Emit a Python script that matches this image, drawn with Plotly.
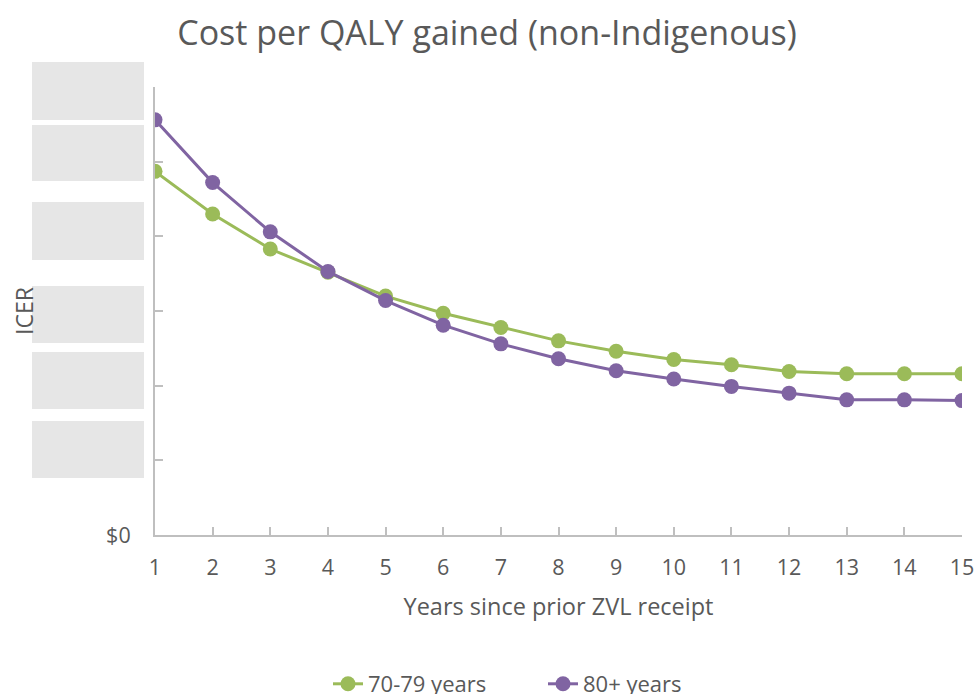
import plotly.graph_objects as go

years = list(range(1, 16))
icer_70_79 = [4.87, 4.30, 3.83, 3.52, 3.20, 2.97, 2.78, 2.60, 2.46, 2.35, 2.28, 2.19, 2.16, 2.16, 2.16]
icer_80_plus = [5.56, 4.72, 4.06, 3.53, 3.14, 2.81, 2.56, 2.36, 2.20, 2.09, 1.99, 1.90, 1.81, 1.81, 1.80]
y_tick_vals = [0, 1, 2, 3, 4, 5, 6]
y_tick_text = ["$0", "", "", "", "", "", ""]

GREEN = "#9BBB59"
PURPLE = "#8064A2"
GREY_TXT = "#595959"
AXIS = "#BFBFBF"
FONT = "Open Sans"

W, H = 977, 694
PL, PR, PT, PB = 155, 962, 87, 535  # plot area in pixels
L, R, T, B = PL, W - PR, PT, H - PB
PW, PH = PR - PL, PB - PT

def px_x(x):
    return (x - PL) / PW

def px_y(y):
    return (PB - y) / PH

fig = go.Figure()
fig.add_trace(go.Scatter(x=years, y=icer_70_79, mode="lines+markers", name="70-79 years",
                         line=dict(color=GREEN, width=3), marker=dict(size=15, color=GREEN)))
fig.add_trace(go.Scatter(x=years, y=icer_80_plus, mode="lines+markers", name="80+ years",
                         line=dict(color=PURPLE, width=3), marker=dict(size=15, color=PURPLE)))

# redaction boxes over y tick labels
boxes = [(62, 120), (125, 181), (202, 260), (286, 343), (352, 409), (421, 478)]
shapes = []
for y0, y1 in boxes:
    shapes.append(dict(type="rect", xref="paper", yref="paper",
                       x0=px_x(32), x1=px_x(144), y0=px_y(y1), y1=px_y(y0),
                       fillcolor="#E6E6E6", line=dict(width=0), layer="above"))

fig.update_layout(
    width=W, height=H,
    margin=dict(l=L, r=R, t=T, b=B, autoexpand=False),
    paper_bgcolor="white", plot_bgcolor="white",
    font=dict(family=FONT, color=GREY_TXT, size=21.5),
    title=dict(text="Cost per QALY gained (non-Indigenous)", x=487 / W, xref="container",
               xanchor="center", y=1 - 33 / H, yref="container", yanchor="middle",
               font=dict(size=34, color=GREY_TXT, family=FONT)),
    xaxis=dict(range=[1, 15], tickvals=years, showline=True, linecolor=AXIS, linewidth=2,
               ticks="inside", ticklen=8, tickcolor=AXIS, tickwidth=2, showgrid=False,
               zeroline=False, ticklabelstandoff=12,
               title=dict(text="Years since prior ZVL receipt", standoff=19,
                          font=dict(size=23.5, color=GREY_TXT))),
    yaxis=dict(range=[0, 6], tickvals=y_tick_vals, ticktext=y_tick_text, showline=True,
               linecolor=AXIS, linewidth=2, ticks="inside", ticklen=8, tickcolor=AXIS,
               tickwidth=2, showgrid=False, zeroline=False, ticklabelstandoff=18),
    legend=dict(orientation="h", x=543 / W, xref="container", xanchor="center",
                y=(H - 684) / H, yref="container", yanchor="middle",
                entrywidth=170, entrywidthmode="pixels",
                font=dict(size=22, color=GREY_TXT)),
    shapes=shapes,
    annotations=[dict(text="ICER", xref="paper", yref="paper", x=px_x(24), y=px_y(311),
                      xanchor="center", yanchor="middle", textangle=-90, showarrow=False,
                      font=dict(size=23, color=GREY_TXT))],
)

fig.write_html("out.html", config={"displayModeBar": False},
               post_script="document.body.style.margin='0';document.body.style.overflow='hidden';")
